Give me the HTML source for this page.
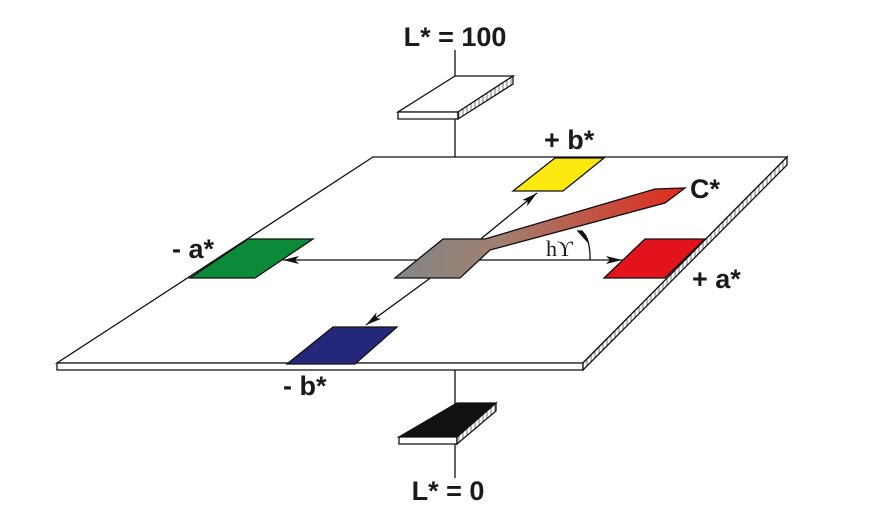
<!DOCTYPE html>
<html><head><style>body{margin:0;background:#fff}svg{display:block}text{font-family:"Liberation Sans",sans-serif;font-weight:bold;font-size:27px;fill:#1a1a1a}</style></head>
<body>
<svg width="872" height="532" viewBox="0 0 872 532" xmlns="http://www.w3.org/2000/svg">
<defs>
<linearGradient id="g" x1="400" y1="0" x2="685" y2="0" gradientUnits="userSpaceOnUse">
<stop offset="0" stop-color="#858585"/><stop offset="0.35" stop-color="#a08070"/><stop offset="1" stop-color="#e02a1a"/></linearGradient>
<marker id="a" viewBox="0 0 16 8" refX="16" refY="4" markerWidth="16" markerHeight="8" orient="auto" markerUnits="userSpaceOnUse"><path d="M0,0L16,4L0,8L4,4z" fill="#111"/></marker>
<pattern id="h" width="4" height="8" patternUnits="userSpaceOnUse"><rect width="4" height="8" fill="#fff"/><line x1="3" y1="0" x2="3" y2="8" stroke="#555" stroke-width="0.8"/></pattern>
</defs>
<g stroke="#111" stroke-width="1.3" fill="none">
<line x1="455" y1="50" x2="455" y2="478"/>
<polygon points="455,76 513,76 458,112 398,112" fill="#fff"/>
<polygon points="398,112 458,112 458,119 398,119" fill="#fff"/>
<polygon points="458,112 513,76 513,84 458,119" fill="url(#h)"/>
<polygon points="373,157 787,157 583,363 57,363" fill="#fff"/>
<polygon points="57,363 583,363 583,370 57,370" fill="#fff"/>
<polygon points="583,363 787,157 787,165 583,370" fill="url(#h)"/>
<line x1="455" y1="260" x2="283" y2="260" marker-end="url(#a)"/>
<line x1="455" y1="260" x2="622" y2="260" marker-end="url(#a)"/>
<line x1="455" y1="260" x2="537" y2="193" marker-end="url(#a)"/>
<line x1="455" y1="260" x2="366" y2="325" marker-end="url(#a)"/>
<path d="M587,238 A60,60 0 0 1 590,260"/>
<path d="M582,231 l-4,0 l9,10 l-1,-5z" fill="#111"/>
<polygon points="555,158 604,158 563,191 513,191" fill="#fde910"/>
<polygon points="645,239 705,239 665,278 604,278" fill="#e2131b"/>
<polygon points="248,239 313,239 255,278 190,278" fill="#0b8a3a"/>
<polygon points="333,327 397,327 355,364 287,364" fill="#25287a"/>
<polygon points="443,239 485,239 655,189 685,188 665,203 490,250 460,278 395,278" fill="url(#g)"/>
<polygon points="457,403 496,403 457,437 399,437" fill="#111"/>
<polygon points="399,437 457,437 457,444 399,444" fill="#fff"/>
<polygon points="457,437 496,403 496,411 457,444" fill="url(#h)"/>
</g>
<text x="546" y="256" style="font-family:'Liberation Serif',serif;font-weight:normal;font-size:22px">hϒ</text>
<text x="455" y="46" text-anchor="middle">L* = 100</text>
<text x="544" y="149">+ b*</text>
<text x="690" y="198">C*</text>
<text x="172" y="258">- a*</text>
<text x="692" y="288">+ a*</text>
<text x="283" y="395">- b*</text>
<text x="448" y="500" text-anchor="middle">L* = 0</text>
</svg>
</body></html>
